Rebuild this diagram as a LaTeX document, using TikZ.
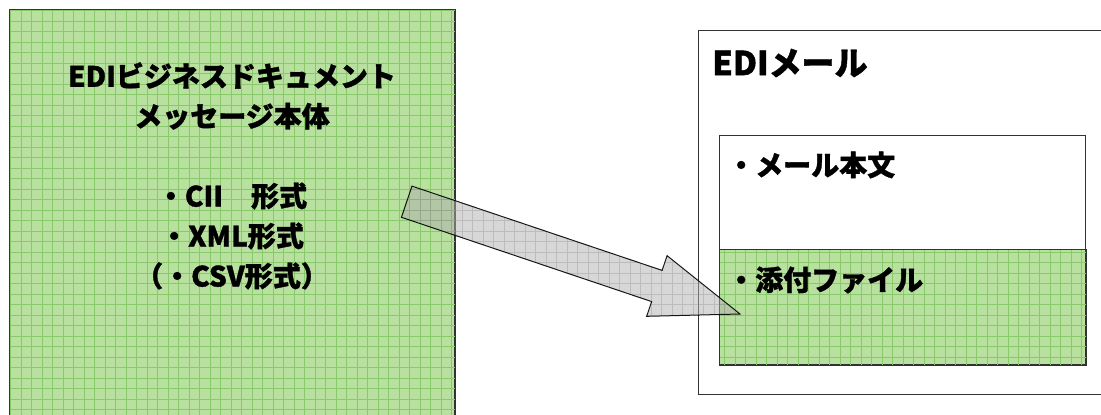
\documentclass[tikz,border=0pt]{standalone}
\usepackage{fontspec}
\setmainfont{Noto Sans CJK JP}[BoldFeatures={FakeBold=1.2}]
\usetikzlibrary{calc}
\definecolor{boxline}{RGB}{50,50,50}
\definecolor{leaf}{RGB}{184,224,158}
\definecolor{leafgrid}{RGB}{138,200,108}
\definecolor{arrowfill}{RGB}{176,176,176}
\tikzset{
  frame/.style={draw=boxline, line width=1pt},
  label/.style={inner sep=0pt, font=\fontsize{28}{40}\selectfont\bfseries},
  biglabel/.style={inner sep=0pt, font=\fontsize{33}{40}\selectfont\bfseries},
  gridded/.style={draw=leafgrid, line width=0.55pt},
}
\begin{document}
\begin{tikzpicture}[x=1pt,y=-1pt]
\clip (0,0) rectangle (1101,415);
\fill[white] (0,0) rectangle (1101,415);

% source document block (runs off the bottom edge)
\node[frame, fill=leaf, minimum width=445pt, minimum height=420pt, anchor=north west, inner sep=0pt] (src) at (9,9) {};
\begin{scope}
  \clip (src.north west) rectangle (src.south east);
  \draw[gridded, step=10.5pt] (src.north west) grid (src.south east);
\end{scope}
\draw[frame] (src.north west) rectangle (src.south east);

\node[label, align=center] (title) at (232,96) {EDIビジネスドキュメント\\メッセージ本体};
\node[label, align=center] (formats) at (232,236) {・CII　形式\\・XML形式\\（・CSV形式）};

% EDI mail envelope (runs off the right edge)
\node[frame, minimum width=420pt, minimum height=364pt, anchor=north west, inner sep=0pt] (mail) at (697.5,30) {};
\node[biglabel, anchor=west] (mailtitle) at (712,63) {EDIメール};

% message body and attachment
\node[frame, minimum width=366pt, minimum height=114pt, anchor=north west, inner sep=0pt] (body) at (719,135) {};
\node[frame, fill=leaf, minimum width=366pt, minimum height=115pt, anchor=north west, inner sep=0pt] (att) at (719,249) {};
\begin{scope}
  \clip (att.north west) rectangle (att.south east);
  \draw[gridded, step=10.5pt] (att.north west) grid (att.south east);
\end{scope}
\draw[frame] (att.north west) rectangle (att.south east);

\node[label, anchor=west] (bodytext) at (727,165) {・メール本文};
\node[label, anchor=west] (atttext) at (727,280) {・添付ファイル};

% block arrow from the document into the attachment
\coordinate (from) at (406.7,201.7);
\coordinate (to) at (740,314);
\coordinate (neck) at ($(from)!264pt!(to)$);
\path
  coordinate (t1) at ($(from)!16.45pt!90:(to)$)
  coordinate (t2) at ($(from)!16.45pt!-90:(to)$)
  coordinate (n1) at ($(neck)!16.45pt!90:(to)$)
  coordinate (n2) at ($(neck)!16.45pt!-90:(to)$)
  coordinate (h1) at ($(neck)!32pt!90:(to)$)
  coordinate (h2) at ($(neck)!32pt!-90:(to)$);
\fill[arrowfill, fill opacity=0.5] (t1) -- (n1) -- (h1) -- (to) -- (h2) -- (n2) -- (t2) -- cycle;
\begin{scope}
  \clip (t1) -- (n1) -- (h1) -- (to) -- (h2) -- (n2) -- (t2) -- cycle;
  \draw[gray, opacity=0.3, line width=0.55pt, step=10.5pt] (380,170) grid (760,330);
\end{scope}
\draw[black, line width=1pt, line join=miter, draw opacity=0.9] (t1) -- (n1) -- (h1) -- (to) -- (h2) -- (n2) -- (t2) -- cycle;
\end{tikzpicture}
\end{document}
